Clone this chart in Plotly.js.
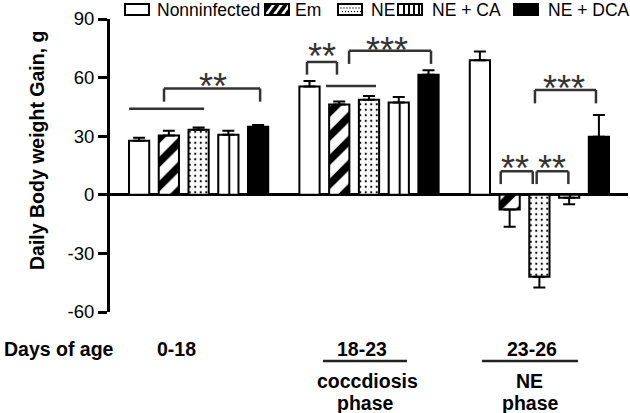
<!DOCTYPE html>
<html>
<head>
<meta charset="utf-8">
<script src="https://cdn.plot.ly/plotly-3.0.1.min.js"></script>
<style>html,body{margin:0;padding:0;background:#fff;}#chart{width:630px;height:413px;}</style>
</head>
<body>
<div id="chart"></div>
<script>
// ---- data ----
const groups = ['0-18', '18-23', '23-26'];
const seriesNames = ['Nonninfected', 'Em', 'NE', 'NE + CA', 'NE + DCA'];
const nonInfected = [27.7, 55.4, 68.9];
const em          = [30.3, 46.2, -7.5];
const ne          = [33.3, 48.7, -42.0];
const neCa        = [30.8, 47.3, -1.5];
const neDca       = [34.9, 61.5, 29.7];
const errNonInfected = [1.5, 2.9, 4.4];
const errEm          = [2.5, 1.6, 8.9];
const errNe          = [1.1, 1.9, 5.5];
const errNeCa        = [2.0, 2.8, 3.3];
const errNeDca       = [0.8, 2.2, 11.2];
const phaseLabels = ['coccdiosis', 'phase', 'NE', 'phase'];
const yTicks = [-60, -30, 0, 30, 60, 90];

const FONT = 'Liberation Sans, Arial, sans-serif';
const values = [nonInfected, em, ne, neCa, neDca];
const errors = [errNonInfected, errEm, errNe, errNeCa, errNeDca];
const styles = [
  {color: '#ffffff', pattern: {shape: ''}},
  {color: '#ffffff', pattern: {shape: '/', fgcolor: '#000', bgcolor: '#fff', size: 17, solidity: 0.45, fillmode: 'replace'}},
  {color: '#ffffff', pattern: {shape: '.', fgcolor: '#000', bgcolor: '#fff', size: 5.5, solidity: 0.12, fillmode: 'replace'}},
  {color: '#ffffff', pattern: {shape: '|', fgcolor: '#000', bgcolor: '#fff', size: 11.36, solidity: 0.18, fillmode: 'replace'}},
  {color: '#000000', pattern: {shape: ''}}
];

const traces = seriesNames.map((name, k) => ({
  type: 'bar',
  name: name,
  x: groups,
  y: values[k],
  marker: {color: styles[k].color, line: {color: '#000', width: 2}, pattern: styles[k].pattern},
  error_y: {
    type: 'data', symmetric: false,
    array: values[k].map((v, i) => v >= 0 ? errors[k][i] : 0),
    arrayminus: values[k].map((v, i) => v < 0 ? errors[k][i] : 0),
    color: '#000', thickness: 2, width: 6
  },
  showlegend: false,
  hoverinfo: 'skip'
}));

// pixel -> paper helpers (plot area: x 110..628, y 19..312)
const px2x = p => (p - 110) / 518;
const py2y = p => (312 - p) / 293;

// legend swatches
function svgURI(s) { return 'data:image/svg+xml;utf8,' + encodeURIComponent(s); }
const swNon = "<svg xmlns='http://www.w3.org/2000/svg' width='26' height='13'><rect x='1' y='1' width='24' height='11' fill='white' stroke='black' stroke-width='2'/></svg>";
const swEm = "<svg xmlns='http://www.w3.org/2000/svg' width='26' height='13'><rect x='0' y='0' width='26' height='13' fill='black'/>" +
  "<path d='M2,12 L10,1 M10,12 L18,1 M18,12 L26,1' stroke='white' stroke-width='2.6'/><rect x='1' y='1' width='24' height='11' fill='none' stroke='black' stroke-width='2'/></svg>";
let dots = '';
for (let x = 4; x <= 22; x += 3) { dots += `<circle cx='${x}' cy='5' r='0.7' fill='black'/><circle cx='${x + 1.5}' cy='8.5' r='0.7' fill='black'/>`; }
const swNe = "<svg xmlns='http://www.w3.org/2000/svg' width='26' height='13'><rect x='1' y='1' width='24' height='11' fill='white' stroke='black' stroke-width='2'/>" + dots + "</svg>";
const swCa = "<svg xmlns='http://www.w3.org/2000/svg' width='26' height='13'><rect x='1' y='1' width='24' height='11' fill='white' stroke='black' stroke-width='2'/>" +
  "<path d='M7,1V12 M12,1V12 M17,1V12 M22,1V12' stroke='black' stroke-width='2'/></svg>";
const swDca = "<svg xmlns='http://www.w3.org/2000/svg' width='26' height='13'><rect x='0' y='0' width='26' height='13' fill='black'/></svg>";
const swatches = [swNon, swEm, swNe, swCa, swDca];
const swX = [124, 264, 337, 397, 513];
const txX = [155, 293, 369, 430, 546];

const images = swatches.map((s, k) => ({
  source: svgURI(s), xref: 'paper', yref: 'paper',
  x: px2x(swX[k]), y: py2y(3), sizex: 26 / 518, sizey: 13 / 293,
  xanchor: 'left', yanchor: 'top', sizing: 'stretch', layer: 'above'
}));

const annotations = [];
seriesNames.forEach((n, k) => annotations.push({
  text: n, xref: 'paper', yref: 'paper', x: px2x(txX[k]), y: py2y(10),
  xanchor: 'left', yanchor: 'middle', showarrow: false,
  font: {family: FONT, size: 17.5, color: '#000'}
}));

// y title
annotations.push({
  text: '<b>Daily Body weight Gain, g</b>', xref: 'paper', yref: 'paper',
  x: px2x(37), y: py2y(151), textangle: -90, showarrow: false,
  xanchor: 'center', yanchor: 'middle', font: {family: FONT, size: 19.5, color: '#000'}
});

// bottom labels
const bottomFont = {family: FONT, size: 19.5, color: '#000'};
annotations.push({text: '<b>Days of age</b>', xref: 'paper', yref: 'paper', x: px2x(2), y: py2y(349), xanchor: 'left', yanchor: 'middle', showarrow: false, font: bottomFont});
const grpLabelX = [176, 362, 532];
groups.forEach((g, i) => annotations.push({
  text: '<b>' + g + '</b>', xref: 'paper', yref: 'paper', x: px2x(grpLabelX[i]), y: py2y(349),
  xanchor: 'center', yanchor: 'middle', showarrow: false, font: bottomFont
}));
const phX = [367, 365, 529, 530];
const phY = [381, 403, 381, 403];
phaseLabels.forEach((t, i) => annotations.push({
  text: '<b>' + t + '</b>', xref: 'paper', yref: 'paper', x: px2x(phX[i]), y: py2y(phY[i]),
  xanchor: 'center', yanchor: 'middle', showarrow: false, font: bottomFont
}));

// significance marks (x in category index units, y in data units)
const starFont = {family: FONT, size: 36, color: '#333'};
const stars = [
  {t: '**', x: 0.085, y: 59.5},
  {t: '**', x: 0.724, y: 74.9},
  {t: '***', x: 1.106, y: 78.0},
  {t: '***', x: 2.144, y: 58.5},
  {t: '**', x: 1.857, y: 17.4},
  {t: '**', x: 2.072, y: 17.4}
];
stars.forEach(s => annotations.push({
  text: s.t, xref: 'x', yref: 'y', x: s.x, y: s.y, xanchor: 'center', yanchor: 'middle',
  yshift: -8, showarrow: false, font: starFont
}));

const shapes = [];
const LINE = {color: '#333', width: 2.5};
function bracket(x0, x1, yt, yb) {
  shapes.push({type: 'line', xref: 'x', yref: 'y', x0: x0, x1: x0, y0: yb, y1: yt, line: LINE});
  shapes.push({type: 'line', xref: 'x', yref: 'y', x0: x0, x1: x1, y0: yt, y1: yt, line: LINE});
  shapes.push({type: 'line', xref: 'x', yref: 'y', x0: x1, x1: x1, y0: yb, y1: yt, line: LINE});
}
function hline(x0, x1, y) {
  shapes.push({type: 'line', xref: 'x', yref: 'y', x0: x0, x1: x1, y0: y, y1: y, line: LINE});
}
hline(-0.408, 0.032, 44);
bracket(-0.203, 0.361, 54.4, 47.7);
bracket(0.636, 0.812, 68, 61.5);
hline(0.748, 1.041, 55.7);
bracket(0.883, 1.364, 73.8, 67);
bracket(1.974, 2.332, 53.7, 46.8);
bracket(1.773, 1.961, 12, 5.5);
bracket(1.984, 2.170, 12, 5.5);
// underlines of phase labels
shapes.push({type: 'line', xref: 'paper', yref: 'paper', x0: px2x(323), x1: px2x(407), y0: py2y(361), y1: py2y(361), line: {color: '#222', width: 2.5}});
shapes.push({type: 'line', xref: 'paper', yref: 'paper', x0: px2x(482), x1: px2x(578), y0: py2y(361), y1: py2y(361), line: {color: '#222', width: 2.5}});

const layout = {
  width: 630, height: 413,
  margin: {l: 110, r: 2, t: 19, b: 101, autoexpand: false},
  paper_bgcolor: '#fff', plot_bgcolor: '#fff',
  barmode: 'group', bargap: 0.127, bargroupgap: 0.32,
  showlegend: false,
  font: {family: FONT, color: '#000'},
  xaxis: {type: 'category', range: [-0.52, 2.52], showline: false, showticklabels: false, ticks: '', showgrid: false, zeroline: false, fixedrange: true},
  yaxis: {
    range: [-60, 90], tickvals: yTicks, ticktext: yTicks.map(String),
    showline: true, linewidth: 3, linecolor: '#000',
    ticks: 'outside', ticklen: 9, tickwidth: 3, tickcolor: '#000',
    tickfont: {family: FONT, size: 18.5, color: '#000'},
    showgrid: false, zeroline: true, zerolinewidth: 3, zerolinecolor: '#000', fixedrange: true
  },
  annotations: annotations, shapes: shapes, images: images
};

Plotly.newPlot('chart', traces, layout, {displayModeBar: false, staticPlot: true});
</script>
</body>
</html>
